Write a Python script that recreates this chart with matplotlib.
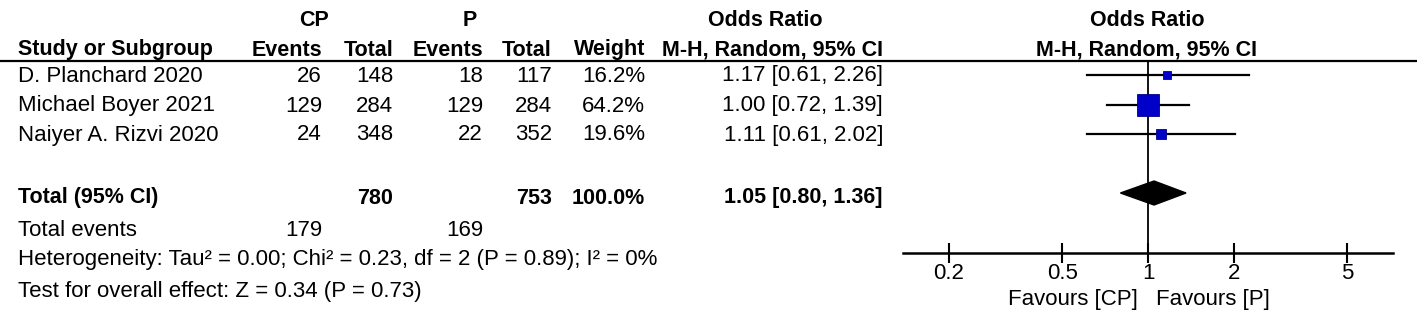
import numpy as np
import matplotlib
matplotlib.use("Agg")
import matplotlib.pyplot as plt
from matplotlib.lines import Line2D

plt.rcParams['font.family'] = ['Liberation Sans', 'DejaVu Sans']

studies = ["D. Planchard 2020", "Michael Boyer 2021", "Naiyer A. Rizvi 2020"]
cp_events = [26, 129, 24]
cp_total = [148, 284, 348]
p_events = [18, 129, 22]
p_total = [117, 284, 352]
weights = [16.2, 64.2, 19.6]
odds = [1.17, 1.00, 1.11]
ci_low = [0.61, 0.72, 0.61]
ci_high = [2.26, 1.39, 2.02]

total_or = 1.05
total_low = 0.80
total_high = 1.36
total_cp = 780
total_p = 753
events_cp = 179
events_p = 169
heterogeneity = "Heterogeneity: Tau\u00b2 = 0.00; Chi\u00b2 = 0.23, df = 2 (P = 0.89); I\u00b2 = 0%"
overall = "Test for overall effect: Z = 0.34 (P = 0.73)"
ticks = [0.2, 0.5, 1, 2, 5]
tick_labels = ["0.2", "0.5", "1", "2", "5"]

W, H = 1417, 325
fig = plt.figure(figsize=(W / 100, H / 100), dpi=100)

# text layer in pixel coordinates
tx = fig.add_axes([0, 0, 1, 1])
tx.set_xlim(0, W)
tx.set_ylim(H, 0)
tx.axis("off")

fb = 15.5   # bold
fr = 16.0   # regular
VA = "center_baseline"
row_y = [75, 105, 134]
dt = -1.5   # text offset against marks


def put(x, y, s, ha="right", bold=False):
    tx.text(x, y + dt, s, ha=ha, va=VA, fontsize=fb if bold else fr,
            fontweight="bold" if bold else "normal")


# column right edges
x_name = 18
x_cpe, x_cpt, x_pe, x_pt, x_w, x_or = 322, 393, 483, 552, 645, 883

put(314, 20, "CP", "center", True)
put(470, 20, "P", "center", True)
put(765, 20, "Odds Ratio", "center", True)
put(1147, 20, "Odds Ratio", "center", True)

hdr = [(x_name, "Study or Subgroup", "left"), (x_cpe, "Events", "right"),
       (x_cpt, "Total", "right"), (x_pe, "Events", "right"), (x_pt, "Total", "right"),
       (x_w, "Weight", "right"), (x_or, "M-H, Random, 95% CI", "right")]
for x, s, ha in hdr:
    put(x, 49, s, ha, True)
put(1147, 49, "M-H, Random, 95% CI", "center", True)

fig.add_artist(Line2D([0, 1], [1 - 61 / H, 1 - 61 / H], color="black", lw=1.6,
                      transform=fig.transFigure))

for i, y in enumerate(row_y):
    put(x_name, y, studies[i], "left")
    put(x_cpe, y, str(cp_events[i]))
    put(x_cpt, y, str(cp_total[i]))
    put(x_pe, y, str(p_events[i]))
    put(x_pt, y, str(p_total[i]))
    put(x_w, y, f"{weights[i]:.1f}%")
    put(x_or, y, f"{odds[i]:.2f} [{ci_low[i]:.2f}, {ci_high[i]:.2f}]")

ty = 197
put(x_name, ty, "Total (95% CI)", "left", True)
put(x_cpt, ty, str(total_cp), bold=True)
put(x_pt, ty, str(total_p), bold=True)
put(x_w, ty, f"{sum(weights):.1f}%", bold=True)
put(x_or, ty, f"{total_or:.2f} [{total_low:.2f}, {total_high:.2f}]", bold=True)

put(x_name, 229, "Total events", "left")
put(x_cpe, 229, str(events_cp))
put(x_pe, 229, str(events_p))
put(x_name, 259, heterogeneity, "left")
put(x_name, 290, overall, "left")

# forest plot axes
ax = fig.add_axes([903 / W, (H - 253) / H, 490 / W, (253 - 61) / H])
ax.set_xscale("log")
ax.set_xlim(0.1378, 7.256)
ax.set_ylim(253, 61)
for s in ["top", "left", "right"]:
    ax.spines[s].set_visible(False)
ax.spines["bottom"].set_linewidth(1.8)
ax.set_yticks([])
ax.set_xticks(ticks)
ax.set_xticklabels(tick_labels)
ax.xaxis.set_minor_locator(matplotlib.ticker.NullLocator())
ax.tick_params(axis="x", direction="inout", length=14, width=1.5, labelsize=fr, pad=0)
ax.axvline(1, color="black", lw=1.3, zorder=1)
ax.patch.set_alpha(0)

for i, y in enumerate(row_y):
    ax.plot([ci_low[i], ci_high[i]], [y, y], color="black", lw=1.6, zorder=2)
    side = 3.8 + 0.279 * weights[i]
    ax.plot(odds[i], y, marker="s", markersize=side * 0.72, color="#0000c8",
            markeredgecolor="#00008a", markeredgewidth=0.6, zorder=3)

dy = 193
ax.fill([total_low, total_or, total_high, total_or], [dy, dy - 12, dy, dy + 12],
        color="black", zorder=3)

put(1073, 298, "Favours [CP]", "center")
put(1213, 298, "Favours [P]", "center")

fig.savefig("out.png", dpi=100)
